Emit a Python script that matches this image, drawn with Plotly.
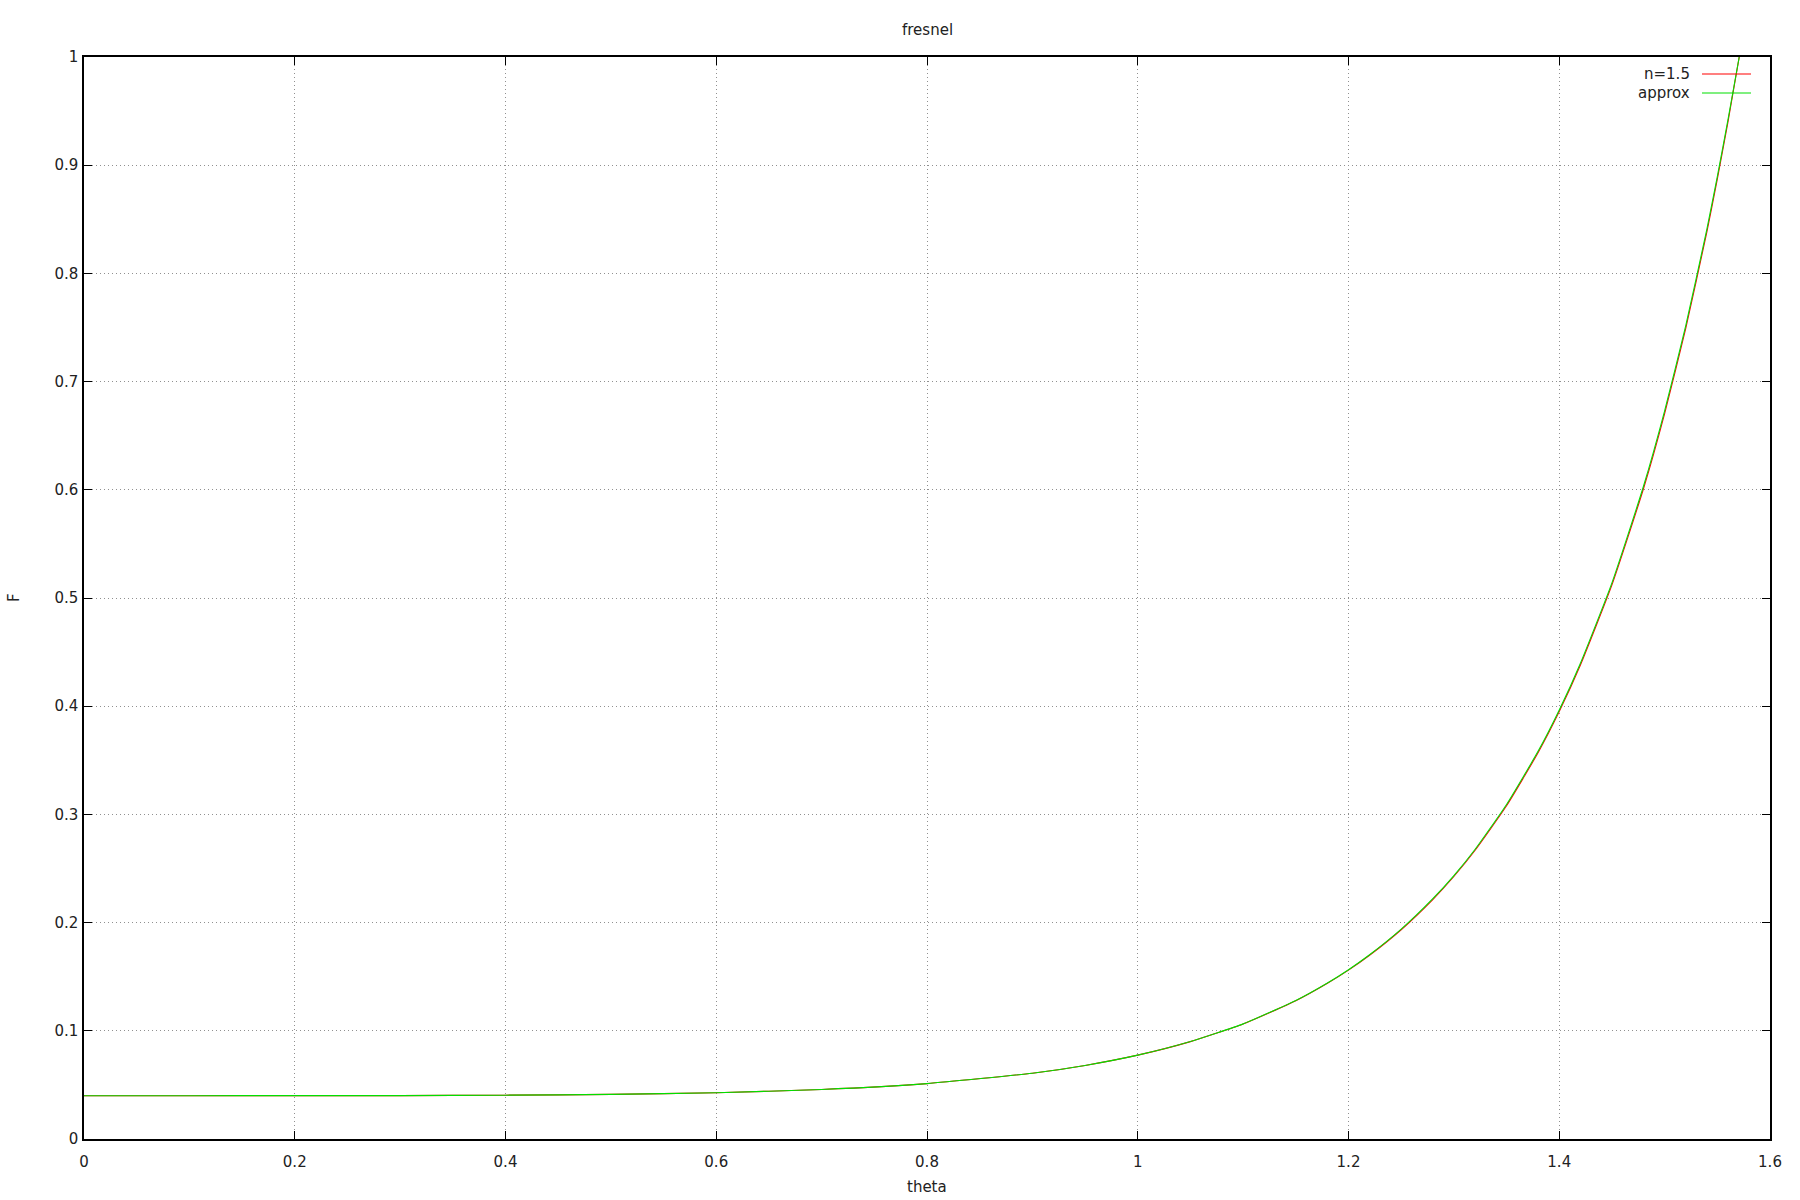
import plotly.graph_objects as go

# ---- data ----
theta = [0, 0.1, 0.2, 0.3, 0.4, 0.5, 0.6, 0.7, 0.8, 0.9, 0.95, 1.0, 1.05, 1.1, 1.15,
         1.18, 1.2, 1.22, 1.25, 1.28, 1.3, 1.32, 1.35, 1.38, 1.4, 1.42, 1.45, 1.48,
         1.5, 1.52, 1.54, 1.55, 1.56, 1.5708]
f_exact = [0.0400, 0.0400, 0.0401, 0.0401, 0.0405, 0.0412, 0.0428, 0.0458, 0.0512,
           0.0608, 0.0680, 0.0775, 0.0900, 0.1063, 0.1278, 0.1439, 0.1561, 0.1698,
           0.1934, 0.2213, 0.2426, 0.2666, 0.3080, 0.3572, 0.3950, 0.4378, 0.5121,
           0.6012, 0.6705, 0.7489, 0.8380, 0.8871, 0.9394, 1.0]
f_approx = [0.0400, 0.0400, 0.0401, 0.0401, 0.0405, 0.0412, 0.0428, 0.0458, 0.0512,
            0.0608, 0.0680, 0.0775, 0.0901, 0.1064, 0.1280, 0.1442, 0.1565, 0.1703,
            0.1940, 0.2221, 0.2435, 0.2676, 0.3092, 0.3585, 0.3965, 0.4395, 0.5140,
            0.6035, 0.6730, 0.7515, 0.8405, 0.8895, 0.9415, 1.0]
series_names = ["n=1.5", "approx"]
series_colors = ["#ff0000", "#00e000"]
x_ticks = [0, 0.2, 0.4, 0.6, 0.8, 1.0, 1.2, 1.4, 1.6]
x_tick_labels = ["0", "0.2", "0.4", "0.6", "0.8", "1", "1.2", "1.4", "1.6"]
y_ticks = [0, 0.1, 0.2, 0.3, 0.4, 0.5, 0.6, 0.7, 0.8, 0.9, 1.0]
y_tick_labels = ["0", "0.1", "0.2", "0.3", "0.4", "0.5", "0.6", "0.7", "0.8", "0.9", "1"]

FONT = "DejaVu Sans"
FS = 15
W, H = 1800, 1200
L, R, T, B = 84, 1770, 57, 1139
pw, ph = R - L, B - T

fig = go.Figure()
for name, ys, col in zip(series_names, [f_exact, f_approx], series_colors):
    fig.add_trace(go.Scatter(x=theta, y=ys, mode="lines", name=name,
                             line=dict(color=col, width=1.1, shape="spline", smoothing=0.5),
                             showlegend=False))

axis_common = dict(showline=True, linecolor="black", linewidth=1.5, mirror="ticks",
                   ticks="inside", ticklen=8, tickwidth=1, tickcolor="black",
                   showgrid=True, gridcolor="#909090", griddash="1px,3px", gridwidth=1,
                   zeroline=False, tickfont=dict(family=FONT, size=FS, color="#222"))
fig.update_xaxes(range=[0, 1.6], tickvals=x_ticks, ticktext=x_tick_labels,
                 ticklabelstandoff=8, **axis_common)
fig.update_yaxes(range=[0, 1], tickvals=y_ticks, ticktext=y_tick_labels,
                 ticklabelstandoff=1, **axis_common)

def px_x(p):
    return (p - L) / pw

def px_y(p):
    return (B - p) / ph

annotations = [
    dict(text="fresnel", xref="paper", yref="paper", x=px_x(927), y=px_y(30),
         xanchor="center", yanchor="middle", showarrow=False,
         font=dict(family=FONT, size=FS, color="#222")),
    dict(text="theta", xref="paper", yref="paper", x=px_x(927), y=px_y(1187),
         xanchor="center", yanchor="middle", showarrow=False,
         font=dict(family=FONT, size=FS, color="#222")),
    dict(text="F", xref="paper", yref="paper", x=px_x(14), y=px_y(598),
         xanchor="center", yanchor="middle", showarrow=False, textangle=-90,
         font=dict(family=FONT, size=FS, color="#222")),
]
shapes = []
for i, (name, col) in enumerate(zip(series_names, series_colors)):
    yy = 74 + i * 19
    annotations.append(dict(text=name, xref="paper", yref="paper", x=px_x(1692), y=px_y(yy),
                            xanchor="right", yanchor="middle", showarrow=False,
                            font=dict(family=FONT, size=FS, color="#222")))
    shapes.append(dict(type="line", xref="paper", yref="paper", x0=px_x(1702), x1=px_x(1751),
                       y0=px_y(yy), y1=px_y(yy), line=dict(color=col, width=1.2)))

fig.update_layout(width=W, height=H, margin=dict(l=L, r=W - R, t=T, b=H - B),
                  paper_bgcolor="white", plot_bgcolor="white",
                  annotations=annotations, shapes=shapes, showlegend=False)

fig.write_html("out.html", config={"displayModeBar": False},
               post_script="document.body.style.margin='0';document.body.style.overflow='hidden';")
